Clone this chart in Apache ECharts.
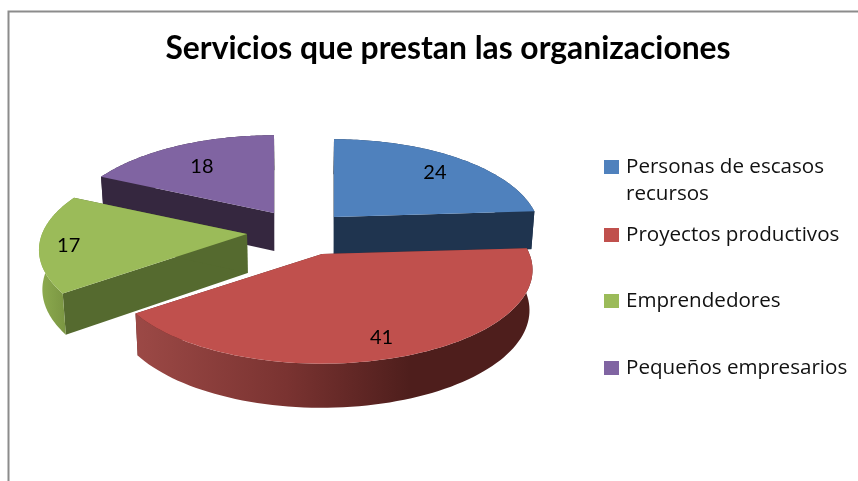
<!DOCTYPE html>
<html>
<head>
<meta charset="utf-8">
<style>html,body{margin:0;padding:0;background:#fff}#c{width:858px;height:481px}</style>
<script src="https://cdn.jsdelivr.net/npm/echarts@6/dist/echarts.min.js"></script>
</head>
<body>
<div id="c"></div>
<script>
const titleText = 'Servicios que prestan las organizaciones';
const categories = ['Personas de escasos recursos', 'Proyectos productivos', 'Emprendedores', 'Pequeños empresarios'];
const values = [24, 41, 17, 18];

const topColors = ['#4f81bd', '#c0504d', '#9bbb59', '#8064a2'];
const wallColors = ['#1f344f', '#5a2422', '#556a2f', '#35273f'];
const rimStops = [
  ['#1f344f', '#1f344f'],
  null,
  ['#8dab4f', '#779240'],
  ['#35273f', '#35273f']
];
const apexes = [[334, 217], [322, 254], [247, 234], [274, 213]];
const sliceScaleX = [0.99, 1.012, 1, 1];
const labelFrac = [0.8, 0.76, 0.86, 0.74];
const labelShift = [[2, 3], [-4, 6], [0, 4], [-1, 3]];
const legendCenters = [165, 233, 299, 366];
const drawOrder = [3, 4, 2, 1];

const A = 205, B = 91, P = 0.17, CX = 300;
const total = values.reduce((a, b) => a + b, 0);

function ring(th, sx) {
  const u = Math.sin(th), v = Math.cos(th), s = 1 / (1 + P * v);
  return [A * sx * u * s, -B * v * s];
}
function lower(p) {
  return [CX + (p[0] - CX) * 0.987, p[1] + 38 + 0.04 * (p[1] - 211)];
}
function renderSlice(idx) {
  return function () {
    const before = values.slice(0, idx).reduce((a, b) => a + b, 0);
    const t0 = before / total * Math.PI * 2;
    const t1 = (before + values[idx]) / total * Math.PI * 2;
    const ax = apexes[idx][0], ay = apexes[idx][1], sx = sliceScaleX[idx];
    const arc = [];
    const n = 80;
    for (let i = 0; i <= n; i++) {
      const r = ring(t0 + (t1 - t0) * i / n, sx);
      arc.push([ax + r[0], ay + r[1]]);
    }
    const apex = [ax, ay];
    const poly = (pts, fill) => ({type: 'polygon', shape: {points: pts}, style: {fill: fill, stroke: null}});
    const wall = (p) => poly([apex, p, lower(p), lower(apex)], wallColors[idx]);
    const rimFill = rimStops[idx]
      ? new echarts.graphic.LinearGradient(40, 0, 70, 0, [
          {offset: 0, color: rimStops[idx][0]},
          {offset: 1, color: rimStops[idx][1]}
        ], true)
      : new echarts.graphic.LinearGradient(135, 0, 410, 0, [
          {offset: 0, color: '#9c4946'},
          {offset: 0.55, color: '#7a3331'},
          {offset: 1, color: '#4e1e1c'}
        ], true);
    const rim = poly(arc.concat(arc.map(lower).reverse()), rimFill);
    const m = ring((t0 + t1) / 2, sx);
    const f = labelFrac[idx];
    return {
      type: 'group',
      children: [
        wall(arc[0]), wall(arc[n]), rim,
        poly([apex].concat(arc), topColors[idx]),
        {type: 'text', style: {
          text: String(values[idx]),
          x: ax + m[0] * f + labelShift[idx][0],
          y: ay + m[1] * f + labelShift[idx][1],
          fill: '#000', font: '20px Lato', align: 'center', verticalAlign: 'middle'
        }}
      ]
    };
  };
}

const chart = echarts.init(document.getElementById('c'), null, {renderer: 'canvas'});
chart.setOption({
  animation: false,
  backgroundColor: '#fff',
  title: {
    text: titleText, left: 443, top: 28, textAlign: 'center',
    textStyle: {fontFamily: 'Lato', fontWeight: 'bold', fontSize: 31.8, color: '#000'}
  },
  legend: categories.map((name, i) => ({
    data: [name], icon: 'rect', left: 604, padding: 0,
    top: legendCenters[i] - (i === 0 ? 40.5 : 13.5),
    itemWidth: 15, itemHeight: 14, selectedMode: false,
    formatter: (s) => s.includes(' recursos') ? '\n' + s.replace(' recursos', '\nrecursos') : s,
    textStyle: {fontFamily: 'Open Sans', fontSize: 20.6, lineHeight: 27, color: '#111', padding: [4, 0, 0, 2]}
  })),
  graphic: [{
    type: 'polyline', silent: true,
    shape: {points: [[8.5, 481], [8.5, 11.5], [858, 11.5]]},
    style: {stroke: '#8c8c8c', lineWidth: 2, fill: null}
  }],
  series: categories.map((name, i) => ({
    type: 'custom', name: name, coordinateSystem: 'none', silent: true,
    z: drawOrder[i],
    itemStyle: {color: topColors[i]},
    renderItem: renderSlice(i),
    data: [[values[i]]]
  }))
});
</script>
</body>
</html>
